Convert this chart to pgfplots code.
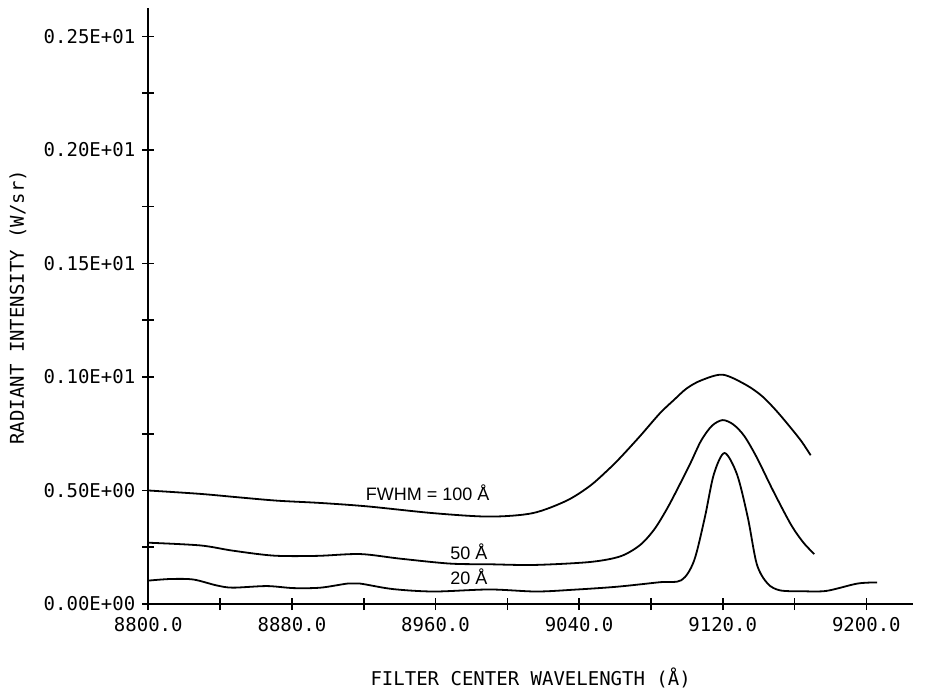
\documentclass[border=0pt]{standalone}
\usepackage{pgfplots}
\pgfplotsset{compat=1.18}
\usepackage{fontspec}
\setmainfont{DejaVu Sans Mono}
\newfontfamily\lab{Liberation Sans}

\pgfplotstableread{
x y
8800 0.500
8829 0.485
8850 0.470
8872 0.455
8896 0.445
8922 0.430
8959 0.400
8990 0.385
9014 0.400
9033 0.455
9046 0.520
9056 0.590
9063 0.645
9074 0.740
9085 0.840
9093 0.900
9100 0.950
9108 0.985
9120 1.010
9133 0.965
9142 0.915
9150 0.850
9158 0.775
9164 0.715
9169 0.655
}\fwhmhundred

\pgfplotstableread{
x y
8800 0.270
8829 0.258
8847 0.235
8870 0.213
8894 0.212
8918 0.220
8940 0.200
8968 0.178
8990 0.175
9015 0.172
9046 0.185
9063 0.210
9074 0.260
9082 0.330
9089 0.420
9095 0.510
9102 0.620
9108 0.720
9114 0.785
9120 0.810
9126 0.790
9132 0.740
9139 0.645
9148 0.500
9158 0.350
9165 0.270
9171 0.220
}\fwhmfifty

\pgfplotstableread{
x y
8800 0.103
8812 0.110
8825 0.108
8838 0.082
8847 0.072
8866 0.079
8881 0.070
8896 0.072
8911 0.090
8918 0.090
8936 0.066
8959 0.055
8990 0.064
9016 0.055
9037 0.063
9061 0.076
9085 0.096
9097 0.105
9104 0.190
9110 0.380
9115 0.570
9121 0.665
9128 0.570
9134 0.380
9139 0.175
9145 0.090
9152 0.060
9165 0.056
9178 0.058
9195 0.090
9206 0.095
}\fwhmtwenty

\begin{document}
\begin{tikzpicture}
\begin{axis}[
  scale only axis, width=382.35pt, height=298pt,
  xmin=8800, xmax=9226, ymin=0, ymax=2.625,
  axis x line=bottom, axis y line=left,
  axis line style={-, line width=0.8pt},
  xtick={8800,8880,8960,9040,9120,9200},
  xticklabels={8800.0,8880.0,8960.0,9040.0,9120.0,9200.0},
  minor xtick={8840,8920,9000,9080,9160},
  ytick={0,0.5,1,1.5,2,2.5},
  yticklabels={0.00E+00,0.50E+00,0.10E+01,0.15E+01,0.20E+01,0.25E+01},
  minor ytick={0.25,0.75,1.25,1.75,2.25},
  tick align=center, major tick length=6pt, minor tick length=6pt,
  tick style={black, line width=0.8pt},
  ticklabel style={font=\fontsize{9.5}{10}\selectfont},
  every axis x label/.style={at={(axis description cs:0.5,-0.124)}, anchor=center, font=\fontsize{9.5}{10}\selectfont},
  every axis y label/.style={at={(axis description cs:-0.1704,0.498)}, rotate=90, anchor=center, font=\fontsize{9.5}{10}\selectfont},
  xlabel={FILTER CENTER WAVELENGTH (Å)},
  ylabel={RADIANT INTENSITY (W/sr)},
]
\addplot[black, line width=0.9pt, smooth] table[x=x,y=y] {\fwhmhundred};
\addplot[black, line width=0.9pt, smooth] table[x=x,y=y] {\fwhmfifty};
\addplot[black, line width=0.9pt, smooth] table[x=x,y=y] {\fwhmtwenty};
\node[anchor=west, font=\lab\fontsize{9}{10}\selectfont, inner sep=0pt] at (axis cs:8921,0.49) {FWHM = 100 Å};
\node[anchor=west, font=\lab\fontsize{9}{10}\selectfont, inner sep=0pt] at (axis cs:8968,0.232) {50 Å};
\node[anchor=west, font=\lab\fontsize{9}{10}\selectfont, inner sep=0pt] at (axis cs:8968,0.12) {20 Å};
\end{axis}
\pgfresetboundingbox
\path (-74.15pt,-44.5pt) rectangle (389.85pt,302pt);
\end{tikzpicture}
\end{document}
